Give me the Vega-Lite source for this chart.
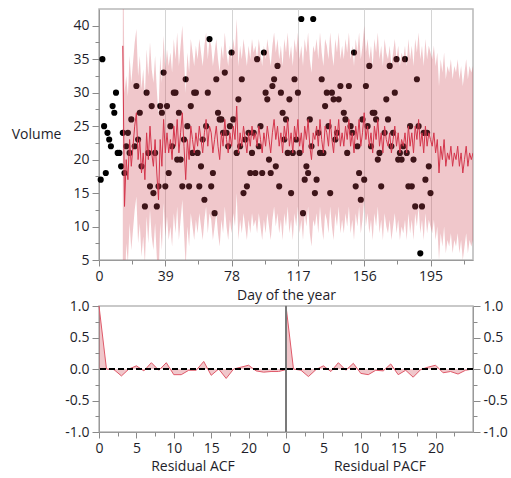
{
  "$schema": "https://vega.github.io/schema/vega-lite/v6.json",
  "padding": {"left": 10, "top": 8, "right": 4, "bottom": 4},
  "config": {
    "font": "Open Sans",
    "view": {"stroke": "#b8b8b8", "strokeWidth": 1.5},
    "axis": {
      "labelFont": "Open Sans", "titleFont": "Open Sans",
      "labelFontSize": 14, "titleFontSize": 14,
      "labelColor": "#1e1e2a", "titleColor": "#1e1e2a", "titleFontWeight": "normal",
      "domainColor": "#9a9a9a", "tickColor": "#8a8a8a",
      "grid": false, "labelFlush": false
    }
  },
  "datasets": {
    "obs": [
      {"day":1,"volume":17},{"day":2,"volume":35},{"day":3,"volume":25},{"day":4,"volume":18},{"day":5,"volume":24},
      {"day":6,"volume":23},{"day":7,"volume":22},{"day":8,"volume":28},{"day":9,"volume":27},{"day":10,"volume":30},
      {"day":11,"volume":21},{"day":12,"volume":21},{"day":13,"volume":19},{"day":14,"volume":24},{"day":15,"volume":18},
      {"day":16,"volume":22},{"day":17,"volume":24},{"day":18,"volume":21},{"day":19,"volume":26},{"day":21,"volume":22},
      {"day":22,"volume":31},{"day":23,"volume":23},{"day":24,"volume":27},{"day":25,"volume":19},{"day":27,"volume":13},
      {"day":28,"volume":30},{"day":29,"volume":21},{"day":30,"volume":16},{"day":31,"volume":28},{"day":32,"volume":15},
      {"day":33,"volume":21},{"day":34,"volume":13},{"day":35,"volume":16},{"day":36,"volume":28},{"day":37,"volume":27},
      {"day":38,"volume":33},{"day":39,"volume":16},{"day":40,"volume":28},{"day":41,"volume":18},{"day":42,"volume":25},
      {"day":43,"volume":22},{"day":44,"volume":30},{"day":45,"volume":30},{"day":46,"volume":20},{"day":47,"volume":27},
      {"day":48,"volume":20},{"day":49,"volume":16},{"day":50,"volume":23},{"day":51,"volume":32},{"day":52,"volume":25},
      {"day":53,"volume":16},{"day":54,"volume":28},{"day":55,"volume":21},{"day":56,"volume":30},{"day":57,"volume":30},
      {"day":58,"volume":21},{"day":59,"volume":16},{"day":60,"volume":19},{"day":61,"volume":23},{"day":62,"volume":14},
      {"day":63,"volume":25},{"day":64,"volume":30},{"day":65,"volume":38},{"day":66,"volume":16},{"day":67,"volume":18},
      {"day":68,"volume":12},{"day":69,"volume":32},{"day":70,"volume":27},{"day":71,"volume":26},{"day":72,"volume":26},
      {"day":73,"volume":24},{"day":74,"volume":33},{"day":75,"volume":24},{"day":76,"volume":22},{"day":77,"volume":25},
      {"day":78,"volume":36},{"day":79,"volume":26},{"day":81,"volume":21},{"day":82,"volume":29},{"day":83,"volume":22},
      {"day":84,"volume":32},{"day":85,"volume":15},{"day":86,"volume":23},{"day":87,"volume":16},{"day":88,"volume":24},
      {"day":89,"volume":18},{"day":90,"volume":21},{"day":91,"volume":24},{"day":92,"volume":18},{"day":93,"volume":35},
      {"day":94,"volume":22},{"day":95,"volume":25},{"day":96,"volume":18},{"day":97,"volume":36},{"day":98,"volume":30},
      {"day":99,"volume":29},{"day":100,"volume":20},{"day":101,"volume":18},{"day":102,"volume":31},{"day":103,"volume":32},
      {"day":104,"volume":19},{"day":105,"volume":34},{"day":106,"volume":16},{"day":107,"volume":30},{"day":108,"volume":27},
      {"day":109,"volume":23},{"day":110,"volume":26},{"day":111,"volume":21},{"day":112,"volume":29},{"day":113,"volume":15},
      {"day":114,"volume":21},{"day":115,"volume":32},{"day":116,"volume":23},{"day":117,"volume":30},{"day":118,"volume":21},
      {"day":119,"volume":41},{"day":120,"volume":12},{"day":121,"volume":17},{"day":122,"volume":19},{"day":123,"volume":18},
      {"day":124,"volume":26},{"day":125,"volume":22},{"day":126,"volume":41},{"day":127,"volume":15},{"day":128,"volume":17},
      {"day":129,"volume":24},{"day":130,"volume":21},{"day":131,"volume":32},{"day":132,"volume":21},{"day":133,"volume":28},
      {"day":134,"volume":30},{"day":135,"volume":25},{"day":136,"volume":15},{"day":137,"volume":30},{"day":138,"volume":29},
      {"day":139,"volume":23},{"day":140,"volume":24},{"day":141,"volume":29},{"day":142,"volume":31},{"day":144,"volume":27},
      {"day":145,"volume":26},{"day":146,"volume":21},{"day":147,"volume":31},{"day":148,"volume":25},{"day":149,"volume":24},
      {"day":150,"volume":36},{"day":151,"volume":16},{"day":152,"volume":22},{"day":153,"volume":18},{"day":154,"volume":14},
      {"day":155,"volume":26},{"day":156,"volume":17},{"day":157,"volume":31},{"day":158,"volume":25},{"day":159,"volume":34},
      {"day":160,"volume":22},{"day":161,"volume":27},{"day":162,"volume":27},{"day":163,"volume":26},{"day":164,"volume":20},
      {"day":165,"volume":21},{"day":166,"volume":16},{"day":168,"volume":24},{"day":169,"volume":29},{"day":170,"volume":26},
      {"day":171,"volume":34},{"day":172,"volume":22},{"day":173,"volume":24},{"day":174,"volume":30},{"day":175,"volume":35},
      {"day":176,"volume":20},{"day":177,"volume":21},{"day":178,"volume":20},{"day":179,"volume":22},{"day":180,"volume":35},
      {"day":181,"volume":21},{"day":182,"volume":16},{"day":183,"volume":25},{"day":184,"volume":16},{"day":185,"volume":20},
      {"day":186,"volume":13},{"day":187,"volume":32},{"day":188,"volume":25},{"day":189,"volume":6},{"day":190,"volume":13},
      {"day":191,"volume":24},{"day":192,"volume":17},{"day":193,"volume":24},{"day":194,"volume":19},{"day":195,"volume":15}
    ],
    "fc": [
      {"day":14,"pred":37,"lower":-8,"upper":60},{"day":15,"pred":13,"lower":-3,"upper":30},
      {"day":16,"pred":20,"lower":7.5,"upper":32.5},{"day":17,"pred":17,"lower":4.5,"upper":29.5},
      {"day":18,"pred":23,"lower":10.5,"upper":35.5},{"day":19,"pred":19,"lower":6.5,"upper":31.5},
      {"day":20,"pred":22,"lower":9.5,"upper":34.5},{"day":21,"pred":25,"lower":12.5,"upper":37.5},
      {"day":22,"pred":27,"lower":14.5,"upper":39.5},{"day":23,"pred":20,"lower":7.5,"upper":32.5},
      {"day":24,"pred":23,"lower":10.5,"upper":35.5},{"day":25,"pred":18,"lower":5.5,"upper":30.5},
      {"day":26,"pred":21,"lower":8.5,"upper":33.5},{"day":27,"pred":17,"lower":4.5,"upper":29.5},
      {"day":28,"pred":24,"lower":11.5,"upper":36.5},{"day":29,"pred":20,"lower":7.5,"upper":32.5},
      {"day":30,"pred":25,"lower":12.5,"upper":37.5},{"day":31,"pred":21,"lower":8.5,"upper":33.5},
      {"day":32,"pred":19,"lower":6.5,"upper":31.5},{"day":33,"pred":23,"lower":10.5,"upper":35.5},
      {"day":34,"pred":18,"lower":5.5,"upper":30.5},{"day":35,"pred":14,"lower":1.5,"upper":26.5},
      {"day":36,"pred":23,"lower":10.5,"upper":35.5},{"day":37,"pred":19,"lower":6.5,"upper":31.5},
      {"day":38,"pred":26,"lower":13.5,"upper":38.5},{"day":39,"pred":21,"lower":8.5,"upper":33.5},
      {"day":40,"pred":24,"lower":11.5,"upper":36.5},
      {"day":41,"pred":21,"lower":8,"upper":34},{"day":42,"pred":23,"lower":10,"upper":36},{"day":43,"pred":20,"lower":7,"upper":33},
      {"day":44,"pred":25,"lower":12,"upper":38},{"day":45,"pred":22,"lower":9,"upper":35},{"day":46,"pred":26,"lower":13,"upper":39},
      {"day":47,"pred":21,"lower":8,"upper":34},{"day":48,"pred":24,"lower":11,"upper":37},{"day":49,"pred":27,"lower":14,"upper":40},
      {"day":50,"pred":22,"lower":9,"upper":35},{"day":51,"pred":17,"lower":4,"upper":30},{"day":52,"pred":23,"lower":10,"upper":36},
      {"day":53,"pred":20,"lower":7,"upper":33},{"day":54,"pred":25,"lower":12,"upper":38},{"day":55,"pred":23,"lower":10,"upper":36},
      {"day":56,"pred":21,"lower":8,"upper":34},{"day":57,"pred":24,"lower":11,"upper":37},{"day":58,"pred":22,"lower":9,"upper":35},
      {"day":59,"pred":25,"lower":12,"upper":38},{"day":60,"pred":23,"lower":10,"upper":36},{"day":61,"pred":21,"lower":8,"upper":34},
      {"day":62,"pred":24,"lower":11,"upper":37},{"day":63,"pred":26,"lower":13,"upper":39},{"day":64,"pred":22,"lower":9,"upper":35},
      {"day":65,"pred":25,"lower":12,"upper":38},{"day":66,"pred":24,"lower":11,"upper":37},{"day":67,"pred":21,"lower":8,"upper":34},
      {"day":68,"pred":23,"lower":10,"upper":36},{"day":69,"pred":25,"lower":12,"upper":38},{"day":70,"pred":22,"lower":9,"upper":35},
      {"day":71,"pred":20,"lower":7,"upper":33},{"day":72,"pred":24,"lower":11,"upper":37},{"day":73,"pred":22,"lower":9,"upper":35},
      {"day":74,"pred":26,"lower":13,"upper":39},{"day":75,"pred":23,"lower":10,"upper":36},{"day":76,"pred":21,"lower":8,"upper":34},
      {"day":77,"pred":24,"lower":11,"upper":37},{"day":78,"pred":22,"lower":9,"upper":35},{"day":79,"pred":25,"lower":12,"upper":38},
      {"day":80,"pred":23,"lower":10,"upper":36},{"day":81,"pred":28,"lower":15,"upper":41},{"day":82,"pred":21,"lower":8,"upper":34},
      {"day":83,"pred":24,"lower":11,"upper":37},{"day":84,"pred":22,"lower":9,"upper":35},{"day":85,"pred":25,"lower":12,"upper":38},
      {"day":86,"pred":23,"lower":10,"upper":36},{"day":87,"pred":21,"lower":8,"upper":34},{"day":88,"pred":24,"lower":11,"upper":37},
      {"day":89,"pred":22,"lower":9,"upper":35},{"day":90,"pred":25,"lower":12,"upper":38},{"day":91,"pred":23,"lower":10,"upper":36},
      {"day":92,"pred":24,"lower":11,"upper":37},{"day":93,"pred":22,"lower":9,"upper":35},{"day":94,"pred":25,"lower":12,"upper":38},
      {"day":95,"pred":23,"lower":10,"upper":36},{"day":96,"pred":21,"lower":8,"upper":34},{"day":97,"pred":24,"lower":11,"upper":37},
      {"day":98,"pred":22,"lower":9,"upper":35},{"day":99,"pred":25,"lower":12,"upper":38},{"day":100,"pred":23,"lower":10,"upper":36},
      {"day":101,"pred":21,"lower":8,"upper":34},{"day":102,"pred":24,"lower":11,"upper":37},{"day":103,"pred":26,"lower":13,"upper":39},
      {"day":104,"pred":23,"lower":10,"upper":36},{"day":105,"pred":25,"lower":12,"upper":38},{"day":106,"pred":22,"lower":9,"upper":35},
      {"day":107,"pred":24,"lower":11,"upper":37},{"day":108,"pred":21,"lower":8,"upper":34},{"day":109,"pred":25,"lower":12,"upper":38},
      {"day":110,"pred":23,"lower":10,"upper":36},{"day":111,"pred":26,"lower":13,"upper":39},{"day":112,"pred":22,"lower":9,"upper":35},
      {"day":113,"pred":24,"lower":11,"upper":37},{"day":114,"pred":21,"lower":8,"upper":34},{"day":115,"pred":25,"lower":12,"upper":38},
      {"day":116,"pred":23,"lower":10,"upper":36},{"day":117,"pred":26,"lower":13,"upper":39},{"day":118,"pred":22,"lower":9,"upper":35},
      {"day":119,"pred":24,"lower":11,"upper":37},{"day":120,"pred":21,"lower":8,"upper":34},{"day":121,"pred":25,"lower":12,"upper":38},
      {"day":122,"pred":23,"lower":10,"upper":36},{"day":123,"pred":26,"lower":13,"upper":39},{"day":124,"pred":22,"lower":9,"upper":35},
      {"day":125,"pred":20,"lower":7,"upper":33},{"day":126,"pred":24,"lower":11,"upper":37},{"day":127,"pred":23,"lower":10,"upper":36},
      {"day":128,"pred":25,"lower":12,"upper":38},{"day":129,"pred":22,"lower":9,"upper":35},{"day":130,"pred":26,"lower":13,"upper":39},
      {"day":131,"pred":23,"lower":10,"upper":36},{"day":132,"pred":21,"lower":8,"upper":34},{"day":133,"pred":25,"lower":12,"upper":38},
      {"day":134,"pred":24,"lower":11,"upper":37},{"day":135,"pred":22,"lower":9,"upper":35},{"day":136,"pred":26,"lower":13,"upper":39},
      {"day":137,"pred":23,"lower":10,"upper":36},{"day":138,"pred":21,"lower":8,"upper":34},{"day":139,"pred":25,"lower":12,"upper":38},
      {"day":140,"pred":23,"lower":10,"upper":36},{"day":141,"pred":26,"lower":13,"upper":39},{"day":142,"pred":22,"lower":9,"upper":35},
      {"day":143,"pred":24,"lower":11,"upper":37},{"day":144,"pred":22,"lower":9,"upper":35},{"day":145,"pred":25,"lower":12,"upper":38},
      {"day":146,"pred":23,"lower":10,"upper":36},{"day":147,"pred":26,"lower":13,"upper":39},{"day":148,"pred":22,"lower":9,"upper":35},
      {"day":149,"pred":24,"lower":11,"upper":37},{"day":150,"pred":21,"lower":8,"upper":34},{"day":151,"pred":25,"lower":12,"upper":38},
      {"day":152,"pred":23,"lower":10,"upper":36},{"day":153,"pred":26,"lower":13,"upper":39},{"day":154,"pred":22,"lower":9,"upper":35},
      {"day":155,"pred":24,"lower":11,"upper":37},{"day":156,"pred":27,"lower":14,"upper":40},{"day":157,"pred":23,"lower":10,"upper":36},
      {"day":158,"pred":25,"lower":12,"upper":38},{"day":159,"pred":22,"lower":9,"upper":35},{"day":160,"pred":24,"lower":11,"upper":37},
      {"day":161,"pred":21,"lower":8,"upper":34},{"day":162,"pred":25,"lower":12,"upper":38},{"day":163,"pred":23,"lower":10,"upper":36},
      {"day":164,"pred":26,"lower":13,"upper":39},{"day":165,"pred":22,"lower":9,"upper":35},{"day":166,"pred":24,"lower":11,"upper":37},
      {"day":167,"pred":21,"lower":8,"upper":34},{"day":168,"pred":25,"lower":12,"upper":38},{"day":169,"pred":23,"lower":10,"upper":36},
      {"day":170,"pred":22,"lower":9,"upper":35},{"day":171,"pred":24,"lower":11,"upper":37},{"day":172,"pred":21,"lower":8,"upper":34},
      {"day":173,"pred":23,"lower":10,"upper":36},{"day":174,"pred":25,"lower":12,"upper":38},{"day":175,"pred":22,"lower":9,"upper":35},
      {"day":176,"pred":24,"lower":11,"upper":37},{"day":177,"pred":21,"lower":8,"upper":34},{"day":178,"pred":23,"lower":10,"upper":36},
      {"day":179,"pred":22,"lower":9,"upper":35},{"day":180,"pred":24,"lower":11,"upper":37},{"day":181,"pred":21,"lower":8,"upper":34},
      {"day":182,"pred":25,"lower":12,"upper":38},{"day":183,"pred":22,"lower":9,"upper":35},{"day":184,"pred":24,"lower":11,"upper":37},
      {"day":185,"pred":21,"lower":8,"upper":34},{"day":186,"pred":25,"lower":12,"upper":38},{"day":187,"pred":23,"lower":10,"upper":36},
      {"day":188,"pred":26,"lower":13,"upper":39},{"day":189,"pred":22,"lower":9,"upper":35},{"day":190,"pred":24,"lower":11,"upper":37},
      {"day":191,"pred":21,"lower":8,"upper":34},{"day":192,"pred":25,"lower":12,"upper":38},{"day":193,"pred":22,"lower":9,"upper":35},
      {"day":194,"pred":24,"lower":11,"upper":37},{"day":195,"pred":23,"lower":10,"upper":36},{"day":196,"pred":22,"lower":9,"upper":35},
      {"day":197,"pred":24,"lower":11,"upper":37},{"day":198,"pred":21,"lower":8,"upper":34},{"day":199,"pred":23,"lower":10,"upper":36},
      {"day":200,"pred":18,"lower":5,"upper":31},{"day":201,"pred":22,"lower":9,"upper":35},{"day":202,"pred":20,"lower":7,"upper":33},
      {"day":203,"pred":23,"lower":10,"upper":36},{"day":204,"pred":19,"lower":6,"upper":32},{"day":205,"pred":21,"lower":8,"upper":34},
      {"day":206,"pred":20,"lower":7,"upper":33},{"day":207,"pred":22,"lower":9,"upper":35},{"day":208,"pred":19,"lower":6,"upper":32},
      {"day":209,"pred":21,"lower":8,"upper":34},{"day":210,"pred":20,"lower":7,"upper":33},{"day":211,"pred":22,"lower":9,"upper":35},
      {"day":212,"pred":19,"lower":6,"upper":32},{"day":213,"pred":21,"lower":8,"upper":34},{"day":214,"pred":18,"lower":5,"upper":31},
      {"day":215,"pred":20,"lower":7,"upper":33},{"day":216,"pred":22,"lower":9,"upper":35},{"day":217,"pred":19,"lower":6,"upper":32},
      {"day":218,"pred":21,"lower":8,"upper":34},{"day":219,"pred":20,"lower":7,"upper":33},{"day":220,"pred":21,"lower":8,"upper":34}
    ],
    "acf": [
      {"lag":0,"r":1.0},{"lag":1,"r":0.0},{"lag":2,"r":-0.01},{"lag":3,"r":-0.11},{"lag":4,"r":0.0},
      {"lag":5,"r":0.05},{"lag":6,"r":-0.03},{"lag":7,"r":0.1},{"lag":8,"r":-0.02},{"lag":9,"r":0.1},
      {"lag":10,"r":-0.09},{"lag":11,"r":-0.09},{"lag":12,"r":-0.02},{"lag":13,"r":-0.02},{"lag":14,"r":0.12},
      {"lag":15,"r":-0.1},{"lag":16,"r":0.0},{"lag":17,"r":-0.15},{"lag":18,"r":0.0},{"lag":19,"r":0.03},
      {"lag":20,"r":0.06},{"lag":21,"r":-0.03},{"lag":22,"r":-0.05},{"lag":23,"r":-0.04},{"lag":24,"r":-0.04},
      {"lag":25,"r":-0.01}
    ],
    "pacf": [
      {"lag":0,"r":1.0},{"lag":1,"r":0.0},{"lag":2,"r":-0.02},{"lag":3,"r":-0.12},{"lag":4,"r":-0.01},
      {"lag":5,"r":0.05},{"lag":6,"r":-0.04},{"lag":7,"r":0.1},{"lag":8,"r":-0.02},{"lag":9,"r":0.09},
      {"lag":10,"r":-0.07},{"lag":11,"r":-0.09},{"lag":12,"r":-0.02},{"lag":13,"r":-0.03},{"lag":14,"r":0.08},
      {"lag":15,"r":-0.09},{"lag":16,"r":-0.02},{"lag":17,"r":-0.13},{"lag":18,"r":-0.01},{"lag":19,"r":0.03},
      {"lag":20,"r":0.06},{"lag":21,"r":-0.06},{"lag":22,"r":-0.04},{"lag":23,"r":-0.08},{"lag":24,"r":-0.02},
      {"lag":25,"r":0.0}
    ]
  },
  "bounds": "flush",
  "spacing": 46,
  "vconcat": [
    {
      "width": 374,
      "height": 251,
      "resolve": {"axis": {"x": "independent", "y": "independent"}},
      "layer": [
        {
          "data": {"name": "obs"},
          "mark": {"type": "circle", "size": 38, "opacity": 1, "color": "#000000"},
          "encoding": {
            "x": {
              "field": "day", "type": "quantitative",
              "scale": {"domain": [0, 220], "nice": false, "zero": false},
              "axis": {
                "orient": "bottom",
                "title": "Day of the year",
                "values": [0, 39, 78, 117, 156, 195],
                "format": "d",
                "grid": true,
                "gridColor": "#d4d4d4",
                "tickSize": 6,
                "labelPadding": 3,
                "titlePadding": 5
              }
            },
            "y": {
              "field": "volume", "type": "quantitative",
              "scale": {"domain": [5, 42.5], "nice": false, "zero": false},
              "axis": {
                "orient": "left",
                "title": "Volume",
                "titleAngle": 0, "titleAlign": "right", "titleBaseline": "middle",
                "titlePadding": 12,
                "values": [5, 10, 15, 20, 25, 30, 35, 40],
                "format": "d",
                "tickSize": 7,
                "labelPadding": 3
              }
            }
          }
        },
        {
          "data": {"name": "fc"},
          "mark": {"type": "area", "color": "#cc4454", "opacity": 0.3, "clip": true},
          "encoding": {
            "x": {"field": "day", "type": "quantitative", "axis": null},
            "y": {"field": "lower", "type": "quantitative", "axis": null},
            "y2": {"field": "upper"}
          }
        },
        {
          "data": {"name": "fc"},
          "mark": {"type": "line", "color": "#d4364c", "strokeWidth": 1, "clip": true},
          "encoding": {
            "x": {"field": "day", "type": "quantitative", "axis": null},
            "y": {"field": "pred", "type": "quantitative", "axis": null}
          }
        },
        {
          "mark": {"type": "rule", "color": "#5a78e6", "strokeWidth": 1.5},
          "encoding": {"x": {"datum": 196, "axis": null}}
        },
        {
          "data": {"name": "obs"},
          "mark": {"type": "point", "opacity": 0},
          "encoding": {
            "x": {
              "field": "day", "type": "quantitative",
              "axis": {"orient": "bottom", "values": [19.5, 58.5, 97.5, 136.5, 175.5, 214.5], "labels": false, "domain": false, "title": null, "tickSize": 4, "grid": false}
            },
            "y": {
              "field": "volume", "type": "quantitative",
              "axis": {"orient": "left", "values": [7.5, 12.5, 17.5, 22.5, 27.5, 32.5, 37.5], "labels": false, "domain": false, "title": null, "tickSize": 4}
            }
          }
        }
      ]
    },
    {
      "bounds": "flush",
      "spacing": 0,
      "hconcat": [
        {
          "width": 187,
          "height": 126,
          "data": {"name": "acf"},
          "resolve": {"axis": {"x": "independent", "y": "independent"}},
          "layer": [
            {
              "mark": {"type": "area", "color": "#cc4454", "opacity": 0.3},
              "encoding": {
                "x": {
                  "field": "lag", "type": "quantitative",
                  "scale": {"domain": [0, 25], "nice": false},
                  "axis": {
                    "orient": "bottom",
                    "title": "Residual ACF",
                    "values": [0, 5, 10, 15, 20],
                    "format": "d",
                    "tickSize": 6,
                    "labelPadding": 3,
                    "titlePadding": 4
                  }
                },
                "y": {
                  "field": "r", "type": "quantitative",
                  "scale": {"domain": [-1, 1], "nice": false},
                  "axis": {
                    "orient": "left",
                    "title": null,
                    "values": [-1, -0.5, 0, 0.5, 1],
                    "labelExpr": "replace(format(datum.value, '.1f'), '\u2212', '-')",
                    "tickSize": 7,
                    "labelPadding": 3
                  }
                },
                "y2": {"datum": 0}
              }
            },
            {
              "mark": {"type": "line", "color": "#e05a6a", "strokeWidth": 1},
              "encoding": {
                "x": {"field": "lag", "type": "quantitative", "axis": null},
                "y": {"field": "r", "type": "quantitative", "axis": null}
              }
            },
            {
              "mark": {"type": "rule", "color": "#000000", "strokeWidth": 1, "strokeDash": [6, 3]},
              "encoding": {"y": {"datum": 0, "axis": null}}
            },
            {
              "mark": {"type": "point", "opacity": 0},
              "encoding": {
                "x": {
                  "field": "lag", "type": "quantitative",
                  "axis": {"orient": "bottom", "values": [2.5, 7.5, 12.5, 17.5, 22.5], "labels": false, "domain": false, "title": null, "tickSize": 4}
                },
                "y": {
                  "field": "r", "type": "quantitative",
                  "axis": {"orient": "left", "values": [-0.75, -0.25, 0.25, 0.75], "labels": false, "domain": false, "title": null, "tickSize": 4}
                }
              }
            }
          ]
        },
        {
          "width": 187,
          "height": 126,
          "data": {"name": "pacf"},
          "resolve": {"axis": {"x": "independent", "y": "independent"}},
          "layer": [
            {
              "mark": {"type": "area", "color": "#cc4454", "opacity": 0.3},
              "encoding": {
                "x": {
                  "field": "lag", "type": "quantitative",
                  "scale": {"domain": [0, 25], "nice": false},
                  "axis": {
                    "orient": "bottom",
                    "title": "Residual PACF",
                    "values": [0, 5, 10, 15, 20],
                    "format": "d",
                    "tickSize": 6,
                    "labelPadding": 3,
                    "titlePadding": 4
                  }
                },
                "y": {
                  "field": "r", "type": "quantitative",
                  "scale": {"domain": [-1, 1], "nice": false},
                  "axis": {
                    "orient": "right",
                    "title": null,
                    "values": [-1, -0.5, 0, 0.5, 1],
                    "labelExpr": "replace(format(datum.value, '.1f'), '\u2212', '-')",
                    "tickSize": 7,
                    "labelPadding": 3
                  }
                },
                "y2": {"datum": 0}
              }
            },
            {
              "mark": {"type": "line", "color": "#e05a6a", "strokeWidth": 1},
              "encoding": {
                "x": {"field": "lag", "type": "quantitative", "axis": null},
                "y": {"field": "r", "type": "quantitative", "axis": null}
              }
            },
            {
              "mark": {"type": "rule", "color": "#000000", "strokeWidth": 1, "strokeDash": [6, 3]},
              "encoding": {"y": {"datum": 0, "axis": null}}
            },
            {
              "mark": {"type": "rule", "color": "#7a7a7a", "strokeWidth": 1.2},
              "encoding": {"x": {"datum": 0, "axis": null}}
            },
            {
              "mark": {"type": "point", "opacity": 0},
              "encoding": {
                "x": {
                  "field": "lag", "type": "quantitative",
                  "axis": {"orient": "bottom", "values": [2.5, 7.5, 12.5, 17.5, 22.5], "labels": false, "domain": false, "title": null, "tickSize": 4}
                },
                "y": {
                  "field": "r", "type": "quantitative",
                  "axis": {"orient": "right", "values": [-0.75, -0.25, 0.25, 0.75], "labels": false, "domain": false, "title": null, "tickSize": 4}
                }
              }
            }
          ]
        }
      ]
    }
  ]
}
